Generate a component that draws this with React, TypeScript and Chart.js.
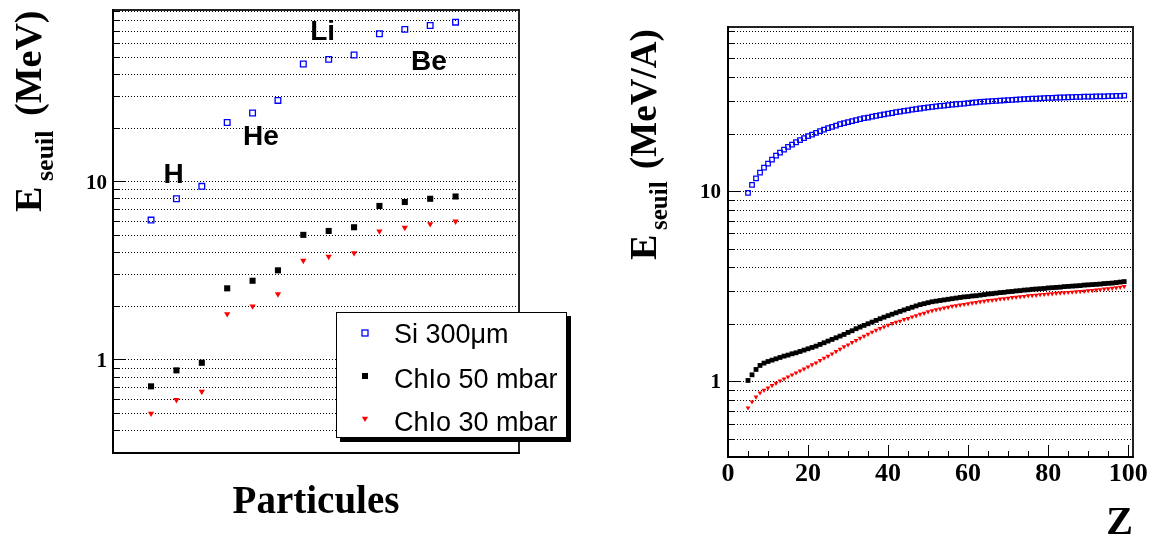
import React, { useEffect, useRef } from "react";
import { Chart, registerables } from "chart.js";

Chart.register(...registerables);

// ---------------- Left panel : threshold energy per particle ----------------
const particlePositions = [1, 2, 3, 4, 5, 6, 7, 8, 9, 10, 11, 12, 13];
const siThresholdMeV = [6.09, 8.02, 9.42, 21.5, 24.3, 28.6, 45.8, 48.6, 51.4, 67.7, 71.6, 75.3, 78.6];
const chio50ThresholdMeV = [0.71, 0.873, 0.963, 2.52, 2.78, 3.18, 5.03, 5.29, 5.55, 7.31, 7.69, 8.02, 8.26];
const chio30ThresholdMeV = [0.5, 0.596, 0.663, 1.81, 2.0, 2.34, 3.61, 3.8, 3.98, 5.27, 5.52, 5.79, 5.99];

const elementNames = ["H", "He", "Li", "Be"];
const elementLabelX = [1.89, 5.33, 7.76, 11.95];
const elementLabelY = [9.89, 16.1, 62.8, 42.3];

const leftYTicks = [0.4, 0.5, 0.6, 0.7, 0.8, 0.9, 1, 2, 3, 4, 5, 6, 7, 8, 9, 10, 20, 30, 40, 50, 60, 70, 80, 90];
const leftYLabelled = [1, 10];
const leftYRange = [0.325, 92];
const leftXRange = [-0.5, 15.5];

const legendEntries = ["Si 300\u03bcm", "ChIo 50 mbar", "ChIo 30 mbar"];

// ---------------- Right panel : threshold energy per nucleon vs Z ----------------
const zValues = [
  5, 6, 7, 8, 9, 10, 11, 12, 13, 14,
  15, 16, 17, 18, 19, 20, 21, 22, 23, 24,
  25, 26, 27, 28, 29, 30, 31, 32, 33, 34,
  35, 36, 37, 38, 39, 40, 41, 42, 43, 44,
  45, 46, 47, 48, 49, 50, 51, 52, 53, 54,
  55, 56, 57, 58, 59, 60, 61, 62, 63, 64,
  65, 66, 67, 68, 69, 70, 71, 72, 73, 74,
  75, 76, 77, 78, 79, 80, 81, 82, 83, 84,
  85, 86, 87, 88, 89, 90, 91, 92, 93, 94,
  95, 96, 97, 98, 99,
];
const siPerNucleon = [
  9.86, 10.86, 11.77, 12.61, 13.4, 14.06, 14.76, 15.5, 16.07, 16.67,
  17.21, 17.7, 18.21, 18.66, 19.12, 19.59, 19.98, 20.39, 20.81, 21.23,
  21.58, 21.93, 22.29, 22.65, 22.93, 23.21, 23.49, 23.78, 24.07, 24.36,
  24.56, 24.86, 25.06, 25.3, 25.5, 25.75, 25.95, 26.2, 26.4, 26.6,
  26.8, 27.0, 27.2, 27.4, 27.6, 27.8, 27.95, 28.1, 28.25, 28.4,
  28.55, 28.7, 28.85, 29.0, 29.1, 29.25, 29.4, 29.5, 29.65, 29.75,
  29.85, 29.95, 30.05, 30.15, 30.25, 30.35, 30.45, 30.5, 30.6, 30.7,
  30.75, 30.85, 30.9, 31.0, 31.05, 31.15, 31.2, 31.25, 31.3, 31.35,
  31.4, 31.45, 31.5, 31.55, 31.6, 31.62, 31.66, 31.7, 31.73, 31.77,
  31.8, 31.85, 31.9, 31.95, 32.0,
];
const chio50PerNucleon = [
  1.018, 1.09, 1.163, 1.221, 1.256, 1.281, 1.302, 1.323, 1.345, 1.367,
  1.384, 1.406, 1.423, 1.446, 1.47, 1.494, 1.518, 1.543, 1.575, 1.607,
  1.64, 1.673, 1.707, 1.742, 1.777, 1.821, 1.858, 1.904, 1.943, 1.983,
  2.023, 2.064, 2.106, 2.15, 2.19, 2.23, 2.27, 2.31, 2.35, 2.39,
  2.43, 2.47, 2.51, 2.55, 2.58, 2.61, 2.64, 2.66, 2.68, 2.7,
  2.72, 2.74, 2.76, 2.78, 2.8, 2.81, 2.83, 2.84, 2.86, 2.88,
  2.9, 2.91, 2.93, 2.95, 2.96, 2.98, 2.99, 3.01, 3.02, 3.04,
  3.05, 3.07, 3.08, 3.09, 3.1, 3.12, 3.13, 3.14, 3.15, 3.17,
  3.18, 3.19, 3.2, 3.21, 3.23, 3.24, 3.25, 3.26, 3.27, 3.29,
  3.3, 3.31, 3.33, 3.35, 3.37,
];
const chio30PerNucleon = [
  0.731, 0.786, 0.835, 0.877, 0.905, 0.931, 0.958, 0.986, 1.014, 1.039,
  1.064, 1.09, 1.117, 1.144, 1.172, 1.201, 1.231, 1.261, 1.297, 1.335,
  1.367, 1.406, 1.446, 1.488, 1.531, 1.568, 1.613, 1.653, 1.7, 1.742,
  1.784, 1.829, 1.873, 1.91, 1.95, 1.99, 2.03, 2.06, 2.09, 2.13,
  2.16, 2.2, 2.23, 2.27, 2.3, 2.34, 2.37, 2.4, 2.42, 2.45,
  2.47, 2.5, 2.52, 2.54, 2.56, 2.58, 2.6, 2.62, 2.64, 2.66,
  2.68, 2.69, 2.71, 2.73, 2.74, 2.76, 2.78, 2.79, 2.81, 2.82,
  2.84, 2.85, 2.86, 2.88, 2.89, 2.9, 2.91, 2.93, 2.94, 2.95,
  2.96, 2.97, 2.98, 2.99, 3.0, 3.02, 3.03, 3.05, 3.06, 3.08,
  3.09, 3.11, 3.13, 3.15, 3.18,
];

const rightYTicks = [0.5, 0.6, 0.7, 0.8, 0.9, 1, 2, 3, 4, 5, 6, 7, 8, 9, 10, 20, 30, 40, 50, 60, 70];
const rightYLabelled = [1, 10];
const rightYRange = [0.403, 73.5];
const rightXRange = [0, 101.2];
const rightXMajor = [0, 20, 40, 60, 80, 100];
const rightXMinor = [5, 10, 15, 25, 30, 35, 45, 50, 55, 65, 70, 75, 85, 90, 95];

// ---------------- styling helpers ----------------
const SERIF = '"Liberation Serif", "Times New Roman", Times, serif';
const SANS = '"Liberation Sans", Arial, Helvetica, sans-serif';
const BLUE = "#0000ff";
const RED = "#ff0000";

type TitlePiece = { text: string; font: string; bx: number; sy: number };
type Decor = {
  yTicks: number[];
  yMajor: number[];
  xMajor?: number[];
  xMinor?: number[];
  yTitle: TitlePiece[];
  xTitle: { text: string; font: string; align: "center" | "right"; baseline: number };
  annotations?: boolean;
  legend?: boolean;
};

function drawTri(ctx: CanvasRenderingContext2D, x: number, y: number, r: number) {
  ctx.beginPath();
  ctx.moveTo(x, y + r);
  ctx.lineTo(x - r * 0.866, y - r / 2);
  ctx.lineTo(x + r * 0.866, y - r / 2);
  ctx.closePath();
  ctx.fill();
}

function makeDecorPlugin(decor: Decor) {
  return {
    id: "rootDecor",
    afterDraw(chart: any) {
      const ctx: CanvasRenderingContext2D = chart.ctx;
      const { left, right, top, bottom } = chart.chartArea;
      const ys = chart.scales.y;
      const xs = chart.scales.x;
      ctx.save();
      ctx.fillStyle = "#000";
      // inward y ticks
      for (const v of decor.yTicks) {
        const py = Math.round(ys.getPixelForValue(v) - 0.5);
        const len = decor.yMajor.includes(v) ? 12 : 6;
        ctx.fillRect(left, py, len, 1);
      }
      // inward x ticks
      if (decor.xMajor) {
        for (const v of decor.xMajor) {
          const px = Math.round(xs.getPixelForValue(v) - 0.5);
          ctx.fillRect(px, bottom - 12, 1, 12);
        }
      }
      if (decor.xMinor) {
        for (const v of decor.xMinor) {
          const px = Math.round(xs.getPixelForValue(v) - 0.5);
          ctx.fillRect(px, bottom - 6, 1, 6);
        }
      }
      // frame
      ctx.fillStyle = "#222";
      ctx.fillRect(left, top - 1, right - left + 1, 2);
      ctx.fillRect(right - 1, top - 1, 2, bottom - top + 1);
      ctx.fillStyle = "#000";
      ctx.fillRect(left - 1, top - 1, 2, bottom - top + 2);
      ctx.fillRect(left - 1, bottom - 1, right - left + 2, 2);

      // y title (rotated, with subscript)
      ctx.fillStyle = "#000";
      ctx.textAlign = "left";
      ctx.textBaseline = "alphabetic";
      for (const p of decor.yTitle) {
        ctx.save();
        ctx.translate(p.bx, p.sy);
        ctx.rotate(-Math.PI / 2);
        ctx.font = p.font;
        ctx.fillText(p.text, 0, 0);
        ctx.restore();
      }
      // x title
      ctx.font = decor.xTitle.font;
      ctx.textAlign = decor.xTitle.align;
      const tx = decor.xTitle.align === "center" ? (left + right) / 2 : right;
      ctx.fillText(decor.xTitle.text, tx, decor.xTitle.baseline);

      // element annotations
      if (decor.annotations) {
        ctx.font = `bold 28px ${SANS}`;
        ctx.textAlign = "center";
        elementNames.forEach((n, i) => {
          ctx.fillText(n, xs.getPixelForValue(elementLabelX[i]), ys.getPixelForValue(elementLabelY[i]));
        });
      }

      // legend box
      if (decor.legend) {
        const bx = 336, by = 312, bw = 231, bh = 126;
        ctx.fillStyle = "#000";
        ctx.fillRect(bx + 4, by + 4, bw, bh);
        ctx.fillStyle = "#fff";
        ctx.fillRect(bx, by, bw, bh);
        ctx.strokeStyle = "#000";
        ctx.lineWidth = 1;
        ctx.strokeRect(bx + 0.5, by + 0.5, bw - 1, bh - 1);
        const mx = 365;
        const rows = [333, 376, 418.5];
        const baselines = [342.5, 388, 431];
        // Si marker : open blue square
        ctx.strokeStyle = BLUE;
        ctx.lineWidth = 1.3;
        ctx.strokeRect(mx - 3, rows[0] - 3, 6, 6);
        // ChIo 50 : black filled square
        ctx.fillStyle = "#000";
        ctx.fillRect(mx - 3, rows[1] - 3, 6, 6);
        // ChIo 30 : red down triangle
        ctx.fillStyle = RED;
        drawTri(ctx, mx, rows[2], 3.6);
        ctx.fillStyle = "#000";
        ctx.font = `27px ${SANS}`;
        ctx.textAlign = "left";
        legendEntries.forEach((t, i) => ctx.fillText(t, 394, baselines[i]));
      }
      ctx.restore();
    },
  };
}

function logYAxis(ticks: number[], labelled: number[], range: number[], width: number, pad: number, lblOffset: number) {
  return {
    type: "logarithmic",
    min: range[0],
    max: range[1],
    afterBuildTicks: (scale: any) => {
      scale.ticks = ticks.map((v) => ({ value: v }));
    },
    afterFit: (scale: any) => {
      scale.width = width;
      scale.paddingTop = 0;
      scale.paddingBottom = 0;
    },
    ticks: {
      autoSkip: false,
      padding: pad,
      labelOffset: lblOffset,
      color: "#000",
      font: { family: SERIF, size: 21, weight: "bold" },
      callback: (v: number) => (labelled.includes(v) ? String(v) : ""),
    },
    grid: { color: "#000", lineWidth: 1, drawTicks: false, borderDash: [1, 2] },
    border: { display: false, dash: [1, 2] },
  };
}

function leftConfig(): any {
  const decor: Decor = {
    yTicks: leftYTicks,
    yMajor: leftYLabelled,
    yTitle: [
      { text: "E", font: `bold 38px ${SERIF}`, bx: 41.3, sy: 212 },
      { text: "seuil", font: `bold 26px ${SERIF}`, bx: 53, sy: 181 },
      { text: "(MeV)", font: `bold 38px ${SERIF}`, bx: 41, sy: 116 },
    ],
    xTitle: { text: "Particules", font: `bold 39px ${SERIF}`, align: "center", baseline: 513 },
    annotations: true,
    legend: true,
  };
  return {
    type: "scatter",
    data: {
      datasets: [
        {
          label: legendEntries[0],
          data: particlePositions.map((x, i) => ({ x, y: siThresholdMeV[i] })),
          pointStyle: "rect",
          pointRadius: 4,
          pointBorderWidth: 1.3,
          pointBorderColor: BLUE,
          pointBackgroundColor: "rgba(0,0,0,0)",
          showLine: false,
        },
        {
          label: legendEntries[1],
          data: particlePositions.map((x, i) => ({ x, y: chio50ThresholdMeV[i] })),
          pointStyle: "rect",
          pointRadius: 4.3,
          pointBorderWidth: 0,
          pointBorderColor: "#000",
          pointBackgroundColor: "#000",
          showLine: false,
        },
        {
          label: legendEntries[2],
          data: particlePositions.map((x, i) => ({ x, y: chio30ThresholdMeV[i] })),
          pointStyle: "triangle",
          pointRotation: 180,
          pointRadius: 3.6,
          pointBorderWidth: 0,
          pointBorderColor: RED,
          pointBackgroundColor: RED,
          showLine: false,
        },
      ],
    },
    options: {
      responsive: false,
      animation: false,
      events: [],
      layout: { padding: { left: 0, top: 10, right: 71, bottom: 0 } },
      plugins: { legend: { display: false }, tooltip: { enabled: false }, title: { display: false } },
      scales: {
        x: {
          type: "linear",
          min: leftXRange[0],
          max: leftXRange[1],
          afterFit: (scale: any) => {
            scale.height = 83;
            scale.paddingLeft = 0;
            scale.paddingRight = 0;
          },
          ticks: { display: false },
          grid: { display: false, drawTicks: false },
          border: { display: false },
        },
        y: logYAxis(leftYTicks, leftYLabelled, leftYRange, 113, 6, 2),
      },
    },
    plugins: [makeDecorPlugin(decor)],
  };
}

function rightConfig(): any {
  const decor: Decor = {
    yTicks: rightYTicks,
    yMajor: rightYLabelled,
    xMajor: rightXMajor,
    xMinor: rightXMinor,
    yTitle: [
      { text: "E", font: `bold 38px ${SERIF}`, bx: 65.6, sy: 260 },
      { text: "seuil", font: `bold 25px ${SERIF}`, bx: 76.5, sy: 230 },
      { text: "(MeV/A)", font: `bold 37px ${SERIF}`, bx: 65.5, sy: 169 },
    ],
    xTitle: { text: "Z", font: `bold 40px ${SERIF}`, align: "right", baseline: 534 },
  };
  return {
    type: "scatter",
    data: {
      datasets: [
        {
          label: legendEntries[0],
          data: zValues.map((x, i) => ({ x, y: siPerNucleon[i] })),
          pointStyle: "rect",
          pointRadius: 3.2,
          pointBorderWidth: 1.25,
          pointBorderColor: BLUE,
          pointBackgroundColor: "rgba(0,0,0,0)",
          showLine: false,
        },
        {
          label: legendEntries[1],
          data: zValues.map((x, i) => ({ x, y: chio50PerNucleon[i] })),
          pointStyle: "rect",
          pointRadius: 3.4,
          pointBorderWidth: 0,
          pointBorderColor: "#000",
          pointBackgroundColor: "#000",
          showLine: false,
        },
        {
          label: legendEntries[2],
          data: zValues.map((x, i) => ({ x, y: chio30PerNucleon[i] })),
          pointStyle: "triangle",
          pointRotation: 180,
          pointRadius: 2.8,
          pointBorderWidth: 0,
          pointBorderColor: RED,
          pointBackgroundColor: RED,
          showLine: false,
        },
      ],
    },
    options: {
      responsive: false,
      animation: false,
      events: [],
      layout: { padding: { left: 0, top: 27, right: 18, bottom: 0 } },
      plugins: { legend: { display: false }, tooltip: { enabled: false }, title: { display: false } },
      scales: {
        x: {
          type: "linear",
          min: rightXRange[0],
          max: rightXRange[1],
          afterBuildTicks: (scale: any) => {
            scale.ticks = rightXMajor.map((v) => ({ value: v }));
          },
          afterFit: (scale: any) => {
            scale.height = 79;
            scale.paddingLeft = 0;
            scale.paddingRight = 0;
          },
          ticks: {
            autoSkip: false,
            maxRotation: 0,
            padding: 2,
            color: "#000",
            font: { family: SERIF, size: 26, weight: "bold" },
          },
          grid: { display: false, drawTicks: false },
          border: { display: false },
        },
        y: logYAxis(rightYTicks, rightYLabelled, rightYRange, 138, 7, 1),
      },
    },
    plugins: [makeDecorPlugin(decor)],
  };
}

function Panel({ left, width, makeConfig }: { left: number; width: number; makeConfig: () => any }) {
  const ref = useRef<HTMLCanvasElement>(null);
  useEffect(() => {
    const chart = new Chart(ref.current as HTMLCanvasElement, makeConfig());
    return () => chart.destroy();
  }, []);
  return (
    <canvas
      ref={ref}
      width={width}
      height={536}
      style={{ position: "absolute", left, top: 0, width, height: 536, display: "block" }}
    />
  );
}

export default function App() {
  return (
    <div style={{ position: "absolute", left: 0, top: 0, width: 1151, height: 536, background: "#fff", overflow: "hidden" }}>
      <Panel left={0} width={590} makeConfig={leftConfig} />
      <Panel left={590} width={561} makeConfig={rightConfig} />
    </div>
  );
}
